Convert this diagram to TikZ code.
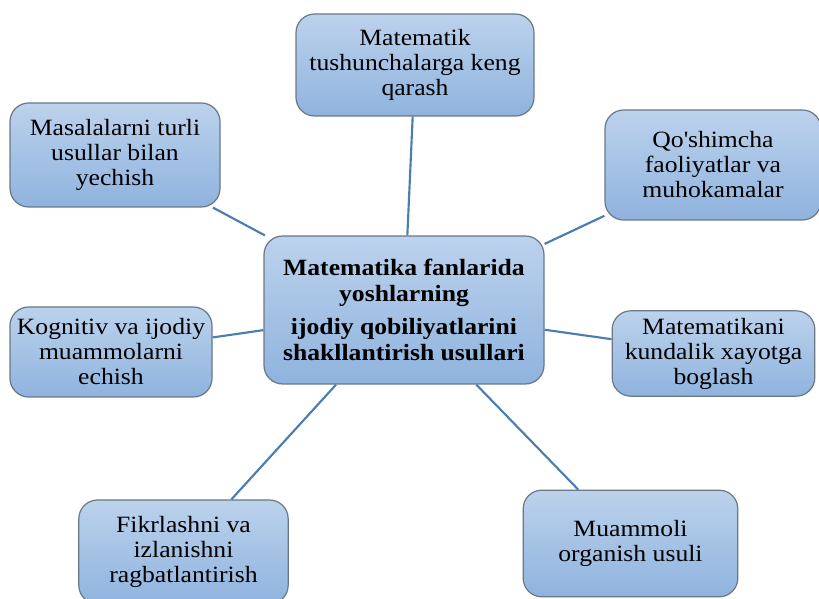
\documentclass[tikz,border=0pt]{standalone}
\usepackage{fontspec}
\setmainfont[FakeStretch=1.1]{Liberation Serif}
\definecolor{boxtop}{HTML}{BCD2EC}
\definecolor{boxbot}{HTML}{8FB3DE}
\definecolor{boxline}{HTML}{6A7886}
\definecolor{conn}{HTML}{4A7EB0}
\begin{document}
\begin{tikzpicture}[x=0.75pt,y=-0.75pt,
  box/.style={draw=boxline, line width=0.9pt, rounded corners=14pt,
    top color=boxtop, bottom color=boxbot, align=center,
    font=\fontsize{17.5}{18.75}\selectfont, inner sep=2pt},
  hub/.style={box, font=\fontsize{17.5}{19.5}\selectfont\bfseries},
  link/.style={draw=conn, line width=1.6pt}]
\useasboundingbox (0,0) rectangle (819,599);
\node[hub, minimum width=210pt, minimum height=111pt] (c) at (404,310)
  {Matematika fanlarida\\yoshlarning\\[5pt]ijodiy qobiliyatlarini\\shakllantirish usullari};
\node[box, minimum width=178.5pt, minimum height=76.5pt] (t) at (415,65)
  {Matematik\\tushunchalarga keng\\qarash};
\node[box, minimum width=157.5pt, minimum height=78pt] (tl) at (115,155)
  {Masalalarni turli\\usullar bilan\\yechish};
\node[box, minimum width=162pt, minimum height=82.5pt] (tr) at (713,165)
  {Qo\textquotesingle shimcha\\faoliyatlar va\\muhokamalar};
\node[box, minimum width=151.5pt, minimum height=67.5pt] (lm) at (111,352)
  {Kognitiv va ijodiy\\muammolarni\\echish};
\node[box, minimum width=152pt, minimum height=64pt] (rm) at (713.5,353.5)
  {Matematikani\\kundalik xayotga\\boglash};
\node[box, minimum width=157pt, minimum height=78pt] (bl) at (183.5,552)
  {Fikrlashni va\\izlanishni\\ragbatlantirish};
\node[box, minimum width=161pt, minimum height=80pt] (br) at (630.5,543.5)
  {Muammoli\\organish usuli};
\draw[link] (c) -- (t);
\draw[link] (c) -- (tl);
\draw[link] (c) -- (tr);
\draw[link] (c) -- (lm);
\draw[link] (c) -- (rm);
\draw[link] (c) -- (bl);
\draw[link] (c) -- (br);
\end{tikzpicture}
\end{document}
